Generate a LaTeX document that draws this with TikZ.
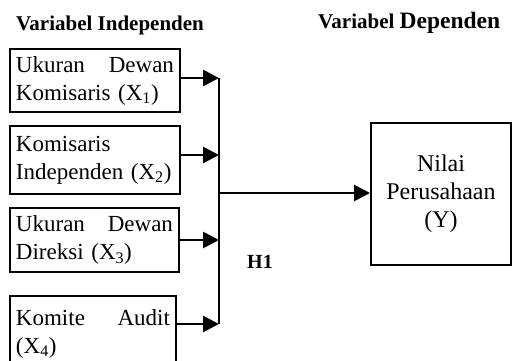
\documentclass[tikz,border=0pt]{standalone}
\usepackage{fontspec}
\setmainfont{Liberation Serif}
\usepackage{tikz}
\usetikzlibrary{arrows.meta, positioning, calc}

\begin{document}
\begin{tikzpicture}[
    x=1pt, y=-1pt,
    varbox/.style={draw, line width=2pt, anchor=north west, inner xsep=6pt, inner ysep=0pt, align=left, font=\fontsize{23}{28}\selectfont},
    head/.style={font=\fontsize{21}{24}\selectfont\bfseries, inner sep=0pt, anchor=base west},
    link/.style={line width=2.8pt, -{Triangle[length=16pt, width=16pt]}}
  ]
  \useasboundingbox (0,0) rectangle (512,360);
  \node[head] (indep) at (16,30) {Variabel Independen};
  \node[head] (dep) at (318,28) {Variabel {\fontsize{23.5}{24}\selectfont Dependen}};

  \node[varbox, text width=158pt, minimum height=63pt] (x1) at (9,48) {Ukuran\hfill Dewan\\Komisaris (X\textsubscript{1})};
  \node[varbox, text width=158pt, minimum height=68pt] (x2) at (9,125) {Komisaris\\Independen~(X\textsubscript{2})};
  \node[varbox, text width=157pt, minimum height=64pt] (x3) at (9,207) {Ukuran\hfill Dewan\\Direksi (X\textsubscript{3})};
  \node[varbox, text width=154pt, minimum height=75pt] (x4) at (9,295) {Komite\hfill Audit\\(X\textsubscript{4})};

  \node[draw, line width=2pt, minimum width=140pt, minimum height=142pt, align=center,
        font=\fontsize{24}{28}\selectfont] (y) at (441,194) {Nilai\\Perusahaan\\(Y)};

  \coordinate (b1) at (219,78);
  \coordinate (b2) at (219,155);
  \coordinate (b3) at (219,240);
  \coordinate (b4) at (219,324);
  \coordinate (bm) at (219,193);

  \draw[line width=2.8pt] (b1) -- (b4);
  \foreach \i in {1,...,4}
    \draw[link] (x\i.east |- b\i) -- (b\i);
  \draw[link] (bm) -- (y.west |- bm);

  \node[head, font=\fontsize{20}{24}\selectfont\bfseries] (h1) at (247,268) {H1};
\end{tikzpicture}
\end{document}
